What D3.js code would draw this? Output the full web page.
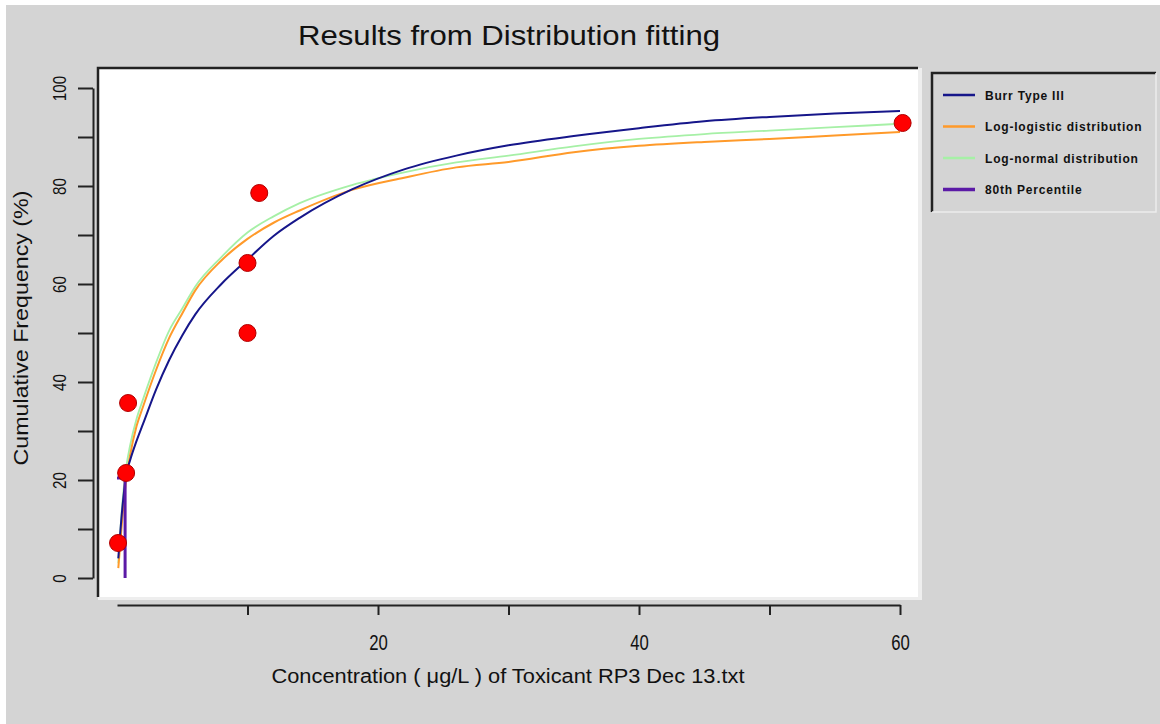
<!DOCTYPE html>
<html>
<head>
<meta charset="utf-8">
<script src="https://cdn.jsdelivr.net/npm/d3@7"></script>
<style>
  body { margin: 0; background: #ffffff; }
  svg text { font-family: "Liberation Sans", Arial, sans-serif; fill: #111; }
</style>
</head>
<body>
<div id="chart-area"></div>
<script>

// Observed data points
var obsConc = [0.08, 0.7, 0.85, 10, 10, 10.9, 60.2];
var obsFreq = [7.14, 21.43, 35.71, 50, 64.29, 78.57, 92.86];

// Fitted curves at these concentrations
var curveConc = [0.1, 0.4, 0.7, 1, 1.5, 2, 3, 4, 5, 6, 8, 10, 12, 14, 18, 22, 26, 30, 35, 40, 45, 50, 55, 60];
var burrFreq = [4, 14, 21, 24, 28, 31.5, 38.5, 44.5, 49.5, 53.8, 60, 65, 69.8, 73.5, 79.3, 83.4, 86.2, 88.3, 90.2, 91.8, 93.2, 94.1, 94.8, 95.3];
var logLogisticFreq = [2, 12, 20, 25, 31, 35, 42.5, 49, 54, 58.7, 64.8, 69.2, 72.5, 75, 79.2, 81.7, 83.8, 84.9, 86.9, 88.2, 89, 89.6, 90.3, 91];
var logNormalFreq = [3, 15, 22.5, 27, 32.5, 36.5, 44, 50.5, 55, 59.5, 65.5, 70.5, 73.8, 76.5, 80.2, 82.8, 84.8, 86.2, 88.1, 89.6, 90.6, 91.3, 92, 92.7];

// 80th percentile marker
var pctConc = [0, 0.62, 0.62];
var pctFreq = [20.4, 20.4, 0];

var seriesNames = ["Burr Type III", "Log-logistic distribution", "Log-normal distribution", "80th Percentile"];
var seriesColors = ["#16168a", "#ff9a2a", "#a6f0a6", "#5b1aa6"];

var xTicks = [10, 20, 30, 40, 50, 60];
var yTicks = [0, 10, 20, 30, 40, 50, 60, 70, 80, 90, 100];

var W = 1160, H = 724;

var svg = d3.select("#chart-area").append("svg")
    .attr("width", W)
    .attr("height", H);

// background
svg.append("rect").attr("x", 6).attr("y", 5).attr("width", W - 6).attr("height", H - 5)
    .attr("fill", "#d4d4d4");

// plot panel
var panel = {x0: 98, y0: 68, x1: 918, y1: 597};
svg.append("rect").attr("x", panel.x0).attr("y", panel.y0)
    .attr("width", panel.x1 - panel.x0 + 4).attr("height", panel.y1 - panel.y0 + 3)
    .attr("fill", "#eeeeee");
svg.append("rect").attr("x", panel.x0).attr("y", panel.y0)
    .attr("width", panel.x1 - panel.x0).attr("height", panel.y1 - panel.y0)
    .attr("fill", "#ffffff");
svg.append("path")
    .attr("d", `M${panel.x0},${panel.y1} V${panel.y0} H${panel.x1}`)
    .attr("fill", "none").attr("stroke", "#222").attr("stroke-width", 2.5);

// Scales
var x = d3.scaleLinear().domain([0, 60]).range([117, 900]);
var y = d3.scaleLinear().domain([0, 100]).range([578, 88]);

// Axes
var xAxis = d3.axisBottom(x)
    .tickValues(xTicks)
    .tickSize(10)
    .tickSizeOuter(0)
    .tickFormat(d => d % 20 === 0 ? d : "");

var yAxis = d3.axisLeft(y)
    .tickValues(yTicks)
    .tickSize(15)
    .tickSizeOuter(0)
    .tickFormat(d => d % 20 === 0 ? d : "");

var gx = svg.append("g")
    .attr("class", "x-axis")
    .attr("transform", "translate(0,605)")
    .call(xAxis);
gx.selectAll("path, line").attr("stroke", "#222").attr("stroke-width", 2);
gx.selectAll("text")
    .attr("y", 29)
    .attr("dy", "0.71em")
    .attr("transform", "scale(0.76,1)")
    .attr("font-size", 22)
    .attr("fill", "#111");

var gy = svg.append("g")
    .attr("class", "y-axis")
    .attr("transform", "translate(93,0)")
    .call(yAxis);
gy.selectAll("path, line").attr("stroke", "#222").attr("stroke-width", 2);
gy.selectAll("text")
    .attr("transform", "rotate(-90) scale(0.8,1)")
    .attr("x", 0)
    .attr("y", -27)
    .attr("dy", 0)
    .attr("text-anchor", "middle")
    .attr("font-size", 19)
    .attr("fill", "#111");
svg.selectAll(".domain").attr("fill", "none");

// Curves
var line = d3.line()
    .x(d => x(d[0]))
    .y(d => y(d[1]))
    .curve(d3.curveMonotoneX);

var curves = [
    {vals: burrFreq, color: seriesColors[0], w: 2},
    {vals: logLogisticFreq, color: seriesColors[1], w: 2},
    {vals: logNormalFreq, color: seriesColors[2], w: 1.8}
];

// draw order: green, orange, blue on top
[2, 1, 0].forEach(function(i) {
    var c = curves[i];
    svg.append("path")
        .datum(curveConc.map((v, j) => [v, c.vals[j]]))
        .attr("d", line)
        .attr("fill", "none")
        .attr("stroke", c.color)
        .attr("stroke-width", c.w);
});

svg.append("path")
    .datum(pctConc.map((v, j) => [v, pctFreq[j]]))
    .attr("d", d3.line().x(d => x(d[0])).y(d => y(d[1])))
    .attr("fill", "none")
    .attr("stroke", seriesColors[3])
    .attr("stroke-width", 3);

// Points
svg.selectAll(".pt")
    .data(obsConc.map((v, j) => [v, obsFreq[j]]))
    .join("circle")
    .attr("class", "pt")
    .attr("cx", d => x(d[0]))
    .attr("cy", d => y(d[1]))
    .attr("r", 8.5)
    .attr("fill", "#ff0000")
    .attr("stroke", "#b00000")
    .attr("stroke-width", 1);

// Titles
svg.append("text")
    .attr("x", 509).attr("y", 45)
    .attr("text-anchor", "middle")
    .attr("font-size", 28)
    .attr("textLength", 422)
    .attr("lengthAdjust", "spacingAndGlyphs")
    .text("Results from Distribution fitting");

svg.append("text")
    .attr("x", 508).attr("y", 683)
    .attr("text-anchor", "middle")
    .attr("font-size", 20)
    .attr("textLength", 473)
    .attr("lengthAdjust", "spacingAndGlyphs")
    .text("Concentration ( μg/L ) of Toxicant RP3 Dec 13.txt");

svg.append("text")
    .attr("transform", "translate(28,328) rotate(-90)")
    .attr("text-anchor", "middle")
    .attr("font-size", 20)
    .attr("textLength", 275)
    .attr("lengthAdjust", "spacingAndGlyphs")
    .text("Cumulative Frequency (%)");

// Legend
var lg = svg.append("g").attr("transform", "translate(932,73)");
lg.append("path")
    .attr("d", "M0,139 V0 H224")
    .attr("fill", "none").attr("stroke", "#222").attr("stroke-width", 2.5);
lg.append("path")
    .attr("d", "M224,0 V139 H0")
    .attr("fill", "none").attr("stroke", "#ececec").attr("stroke-width", 1.5);

var items = lg.selectAll(".item")
    .data(seriesNames)
    .join("g")
    .attr("class", "item")
    .attr("transform", (d, i) => `translate(0,${22 + i * 31.5})`);
items.append("line")
    .attr("x1", 11).attr("x2", 43)
    .attr("stroke", (d, i) => seriesColors[i])
    .attr("stroke-width", (d, i) => i === 3 ? 3.5 : 2.5);
items.append("text")
    .attr("x", 53).attr("y", 4.5)
    .attr("font-size", 12)
    .attr("font-weight", "bold")
    .attr("letter-spacing", 0.8)
    .text(d => d);

</script>
</body>
</html>
